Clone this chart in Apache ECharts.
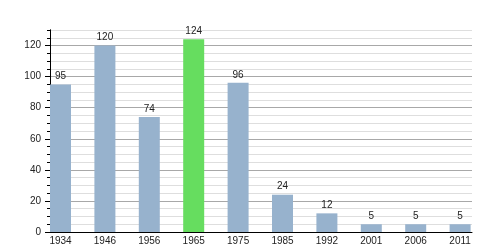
<!DOCTYPE html>
<html><head><meta charset="utf-8">
<script src="https://cdn.jsdelivr.net/npm/echarts@6/dist/echarts.min.js"></script>
<style>html,body{margin:0;padding:0;background:#fff}#c{width:500px;height:250px}</style>
</head><body><div id="c"></div>
<script>
const years = ['1934','1946','1956','1965','1975','1985','1992','2001','2006','2011'];
const population = [95,120,74,124,96,24,12,5,5,5];
const highlightYear = '1965';
const yMax = 130;
const yMajorStep = 20;
const yMinorStep = 5;

const blue = '#97b2cd', green = '#66dd5f';
const font = 'Liberation Sans, Arial, sans-serif';
const chart = echarts.init(document.getElementById('c'), null, {renderer:'canvas'});
const majorCount = Math.floor(yMax / yMajorStep) + 2;
const majorColors = [];
for (let i = 0; i < majorCount; i++) majorColors.push(i === majorCount - 1 && yMax % yMajorStep ? '#dedede' : '#a8a8a8');

chart.setOption({
  animation:false,
  backgroundColor:'#fff',
  grid:[
    {left:50, right:28, top:30, bottom:18},
    {left:38.3, right:17.7, top:30, bottom:18}
  ],
  xAxis:[
    {gridIndex:0, type:'value', min:0, max:1, axisLine:{show:true, lineStyle:{color:'#000', width:1}},
     axisTick:{show:false}, axisLabel:{show:false}, splitLine:{show:false}, z:5},
    {gridIndex:1, type:'category', data:years, boundaryGap:true,
     axisLine:{show:false}, axisTick:{show:false},
     axisLabel:{margin:4, fontSize:10, color:'#222', fontFamily:font, interval:0}}
  ],
  yAxis:[
    {gridIndex:0, type:'value', position:'left', min:0, max:yMax, interval:yMinorStep, z:0,
     axisLine:{show:true, lineStyle:{color:'#000'}},
     axisTick:{show:true, length:3, lineStyle:{color:'#000'}},
     axisLabel:{show:false},
     splitLine:{show:true, lineStyle:{color:'#dedede', width:1}}},
    {gridIndex:0, type:'value', position:'left', offset:0, min:0, max:yMax, interval:yMajorStep, z:1,
     axisLine:{show:true, lineStyle:{color:'#000'}},
     axisTick:{show:true, length:5, lineStyle:{color:'#000'}},
     axisLabel:{margin:9, fontSize:10, color:'#222', fontFamily:font, showMaxLabel:false},
     splitLine:{show:true, lineStyle:{color:majorColors, width:1}}},
    {gridIndex:1, type:'value', min:0, max:yMax, show:false, splitLine:{show:false}}
  ],
  series:[{
    type:'bar', xAxisIndex:1, yAxisIndex:2, barWidth:21, z:3,
    data: population.map((v,i)=>({value:v, itemStyle:{color: years[i]===highlightYear ? green : blue}})),
    label:{show:true, position:'top', distance:3, fontSize:10, color:'#222', fontFamily:font}
  }]
});
</script></body></html>
